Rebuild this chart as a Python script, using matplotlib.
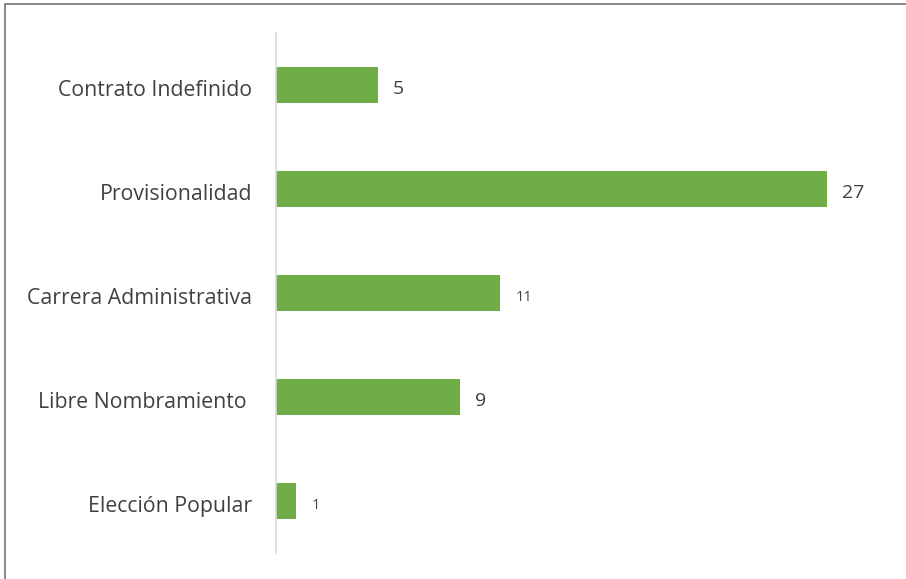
import matplotlib.pyplot as plt
import matplotlib.transforms as mtransforms
from matplotlib.patches import Rectangle

# Employees by type of appointment
categorias = ['Contrato Indefinido', 'Provisionalidad', 'Carrera Administrativa',
              'Libre Nombramiento ', 'Elección Popular']
valores = [5, 27, 11, 9, 1]
tam_etiqueta = [14, 14, 10.5, 14, 10.5]

verde = '#70ad47'
gris_texto = '#404040'

plt.rcParams['font.family'] = ['Open Sans', 'DejaVu Sans']

fig = plt.figure(figsize=(9.06, 5.79), dpi=100)
ax = fig.add_axes([0.3046, 0.0449, 0.6754, 0.8981])

pos = list(range(len(categorias)))
ax.barh(pos, valores, height=0.34, color=verde)
ax.set_ylim(len(categorias) - 0.5, -0.5)
ax.set_xlim(0, 30)

ax.set_yticks(pos)
ax.set_yticklabels(categorias, fontsize=15.3, color=gris_texto)
ax.tick_params(axis='y', length=0, pad=17)
# nudge category labels slightly down
bajar = mtransforms.ScaledTranslation(0, -3 / 100, fig.dpi_scale_trans)
for t in ax.get_yticklabels():
    t.set_transform(t.get_transform() + bajar)
ax.set_xticks([])

for s in ['top', 'right', 'bottom']:
    ax.spines[s].set_visible(False)
ax.spines['left'].set_color('#d9d9d9')
ax.spines['left'].set_linewidth(1.2)

for p, v, fs in zip(pos, valores, tam_etiqueta):
    ax.annotate(str(v), (v, p), xytext=(11, -3), textcoords='offset points',
                va='center', ha='left', fontsize=fs, color=gris_texto)

# outer frame of the chart area
fig.add_artist(Rectangle((5 / 906, -0.1), 2, 1.1 - 4 / 579, transform=fig.transFigure,
                         fill=False, edgecolor='#808080', lw=1.3))

fig.savefig('out.png', dpi=100)
